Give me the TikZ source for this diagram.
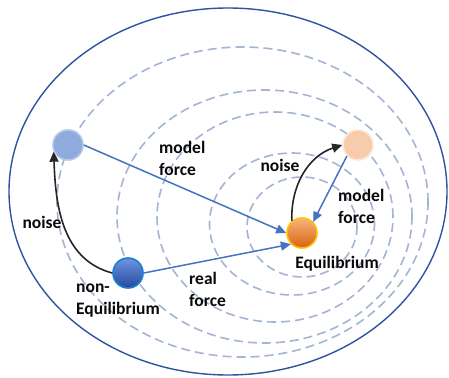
\documentclass[tikz,border=0pt]{standalone}
\usepackage{fontspec}
\setmainfont{Carlito}
\usetikzlibrary{arrows.meta}
\definecolor{outerblue}{RGB}{46,84,161}
\definecolor{ringblue}{RGB}{164,180,212}
\definecolor{arrowblue}{RGB}{68,114,196}
\definecolor{ghostblue}{RGB}{143,170,220}
\definecolor{ghostblueline}{RGB}{180,199,231}
\definecolor{peach}{RGB}{248,203,173}
\definecolor{peachline}{RGB}{253,233,217}
\definecolor{neqtop}{RGB}{110,150,222}
\definecolor{neqbot}{RGB}{36,72,160}
\definecolor{neqline}{RGB}{26,127,208}
\definecolor{eqtop}{RGB}{247,180,125}
\definecolor{eqbot}{RGB}{217,99,15}
\definecolor{eqline}{RGB}{255,192,0}
\definecolor{txt}{RGB}{10,10,10}
\tikzset{
  ring/.style={draw=ringblue, line width=1.6pt, dash pattern=on 9pt off 5pt},
  ball/.style={circle, minimum size=30pt, inner sep=0pt, line width=1.6pt},
  bluearrow/.style={draw=arrowblue, line width=1.5pt, -{Triangle[length=10pt,width=9pt]}},
  blackarrow/.style={draw=black!85, line width=1.6pt, -{Triangle[length=10pt,width=9pt]}},
  lbl/.style={font=\fontsize{17.5}{22}\selectfont\bfseries, text=txt, inner sep=0pt, align=left}
}
\begin{document}
\begin{tikzpicture}[x=1pt,y=-1pt]
\useasboundingbox (0,0) rectangle (449,377);
\fill[white] (0,0) rectangle (449,377);
% outer ellipse
\draw[outerblue, line width=1.4pt] (228,191.5) ellipse [x radius=219pt, y radius=183.5pt];
% dashed rings
\draw[ring] (302,227) ellipse [x radius=55pt, y radius=50pt];
\draw[ring] (292,224) ellipse [x radius=82.5pt, y radius=71pt];
\draw[ring] (275,217) ellipse [x radius=118pt, y radius=105pt];
\draw[ring] (264.5,216.5) ellipse [x radius=147.5pt, y radius=126.5pt];
\draw[ring] (242.5,202) ellipse [x radius=185.5pt, y radius=155pt];
% balls
\node[ball, fill=ghostblue, draw=ghostblueline] (ghostB) at (68,145) {};
\node[ball, fill=peach, draw=peachline] (ghostP) at (358,145) {};
\node[ball, top color=neqtop, bottom color=neqbot, draw=neqline] (neq) at (128,273) {};
\node[ball, top color=eqtop, bottom color=eqbot, draw=eqline] (eq) at (302,233) {};
% arrows
\draw[bluearrow] (ghostB.east) -- (eq.west);
\draw[bluearrow] (neq.east) -- (eq.225);
\draw[bluearrow] (ghostP.225) -- (eq.45);
\draw[blackarrow] (neq.west) to[out=165, in=-88] (ghostB.205);
\draw[blackarrow] (eq.130) to[out=92, in=198] (ghostP.west);
% labels
\node[lbl, anchor=west] (mf1) at (159,158) {model\\force};
\node[lbl] (n1) at (42,222) {noise};
\node[lbl] (n2) at (280,165) {noise};
\node[lbl, anchor=west] (mf2) at (338,206) {model\\force};
\node[lbl] (eqlbl) at (337,264) {Equilibrium};
\node[lbl, anchor=west] (rf) at (189,289) {real\\force};
\node[lbl, anchor=west] (neqlbl) at (76,301) {non-\\Equilibrium};
\end{tikzpicture}
\end{document}
